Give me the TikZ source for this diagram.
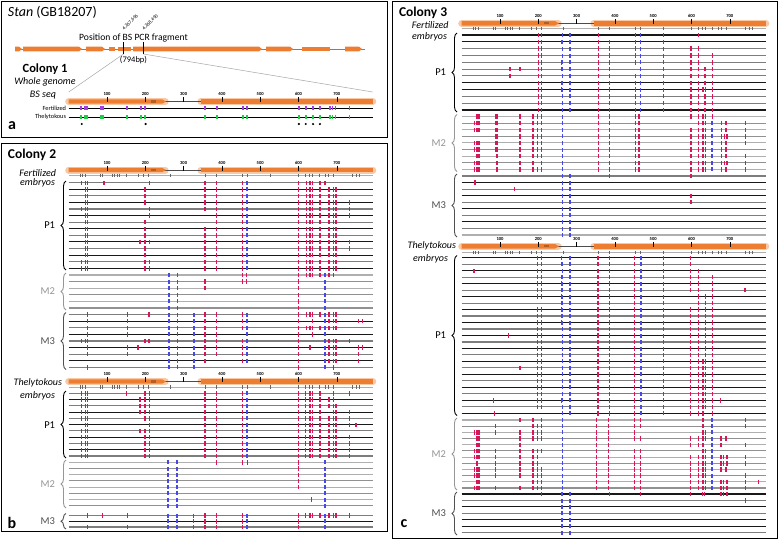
\documentclass[tikz,border=0pt]{standalone}
\usepackage{fontspec}
\setmainfont{Carlito}
\usetikzlibrary{decorations.pathreplacing}
\definecolor{gorange}{RGB}{237,125,49}
\definecolor{ghalo}{RGB}{249,200,165}
\definecolor{mred}{RGB}{214,22,88}
\definecolor{mblue}{RGB}{72,72,232}
\definecolor{mpurple}{RGB}{165,60,230}
\definecolor{mgreen}{RGB}{30,205,70}
\definecolor{lineA}{RGB}{25,25,25}
\definecolor{lineB}{RGB}{125,125,125}
\definecolor{lineC}{RGB}{175,175,175}
\definecolor{lineD}{RGB}{145,145,145}
\definecolor{labM}{RGB}{150,150,150}
\definecolor{labMM}{RGB}{80,80,80}
\def\xb{68.7}
\def\xc{461.7}
\def\cpglist{30,36,43,83,89,113,120,126,133,150,183,196,209,265,357,385,452,467,527,599,618,628,635,654,671,679,690,741,752,760}
\newcommand\rline[3]{\draw[#3, line width=1.1pt] (#1,#2) -- ++(304,0);}
\newcommand\redmarks[3]{\edef\mlist{#3}\foreach \q in \mlist {\ifdim\q pt>0pt \fill[mred] ({#1+0.383*\q-0.65},{#2-2.2}) rectangle ++(1.3,4.4);\fi}}
\newcommand\bluemarks[3]{\edef\mlist{#3}\foreach \q in \mlist {\ifdim\q pt>0pt \fill[mblue] ({#1+0.383*\q-0.9},{#2-2}) rectangle ++(1.8,4);\fi}}
\newcommand\drow[5]{\rline{#1}{#2}{#3}\redmarks{#1}{#2}{#4}\bluemarks{#1}{#2}{#5}}
\newcommand\cmarks[4]{\edef\mlist{#4}\foreach \q in \mlist {\fill[#3] ({#1+0.383*\q-0.75},{#2-2}) rectangle ++(1.5,4);}}
\newcommand\cpgrow[2]{\draw[lineC, line width=0.8pt] (#1,#2) -- ++(304,0);
  \foreach \q in \cpglist {\draw[gray!80!black, line width=0.6pt] ({#1+0.383*\q},{#2-1.6}) -- ++(0,3.2);}}
\newcommand\ruler[3]{%
  \draw[ghalo, line width=7pt, line cap=round] (#1,#2) -- ({#1+0.383*252},#2);
  \draw[ghalo, line width=7pt, line cap=round] ({#1+0.383*345},#2) -- ({#1+0.383*794},#2);
  \draw[gray!60!black, line width=0.8pt] ({#1+0.383*250},#2) -- ({#1+0.383*345},#2);
  \fill[gorange] (#1,{#2-2.2}) -- ({#1+0.383*244},{#2-2.2}) -- ({#1+0.383*254},#2) -- ({#1+0.383*244},{#2+2.2}) -- (#1,{#2+2.2}) -- cycle;
  \fill[gorange!75!black] ({#1+0.383*216},{#2-1.1}) rectangle ({#1+0.383*228},{#2+1.1});
  \fill[gorange] ({#1+0.383*345},{#2-2.2}) rectangle ({#1+0.383*794},{#2+2.2});
  \foreach \t in {100,200,...,700}{%
    \draw[black, line width=0.6pt] ({#1+0.383*\t},{#2-4.5}) -- ({#1+0.383*\t},{#2+0.5});
    \node[ticklab] (#3\t) at ({#1+0.383*\t},{#2-7.3}) {\t};}}
\newcommand\exon[3]{\fill[gorange] (#1,{#3-2.4}) -- ({#2-3},{#3-2.4}) -- (#2,#3) -- ({#2-3},{#3+2.4}) -- (#1,{#3+2.4}) -- cycle;}
\newcommand\exonb[3]{\fill[gorange] (#1,{#3-2.4}) rectangle (#2,{#3+2.4});}
\newcommand\pbrace[4]{\draw[pbr,#4] (#1,#3) -- (#1,#2);}
% mark lists
\def\Rb{43,49,356,386,454,600,621,630,637,656}
\def\Rbb{680,691,698}
\def\Bm{262,284,327,466,669}
\def\Rt{34,43,49,199,211,356,386,454,600,618,630,637,656}
\def\Rc{200,209,357,386,453,599,618}
\def\Bc{263,283,467,527}
\def\Rm{88,92,152,186,197,209,357,386,453,463,599,618,630,637}
\def\Rp{197,209,356,385,452,598,618}
\def\Bp{263,282,468,527}
\begin{document}
\begin{tikzpicture}[x=1pt,y=-1pt,
  lab/.style={inner sep=0pt, outer sep=0pt},
  ticklab/.style={inner sep=0pt, font=\fontsize{4.6}{5}\selectfont\bfseries},
  pbr/.style={decorate, decoration={brace, amplitude=5pt}, line width=0.9pt},
  panel/.style={draw=black, line width=1pt},
  emb/.style={lab, font=\fontsize{10}{12}\selectfont\itshape, anchor=east},
  grp/.style={lab, font=\fontsize{10.5}{12}\selectfont, anchor=east},
  col/.style={lab, font=\fontsize{13.5}{15}\selectfont\bfseries, anchor=west},
  plab/.style={lab, font=\fontsize{16}{18}\selectfont\bfseries, anchor=center}]
\useasboundingbox (0,0) rectangle (779,539);
\fill[white] (0,0) rectangle (779,539);
% panels
\draw[panel] (1,1) rectangle (387,137);
\draw[panel] (1,143) rectangle (387,531);
\draw[panel] (392,1) rectangle (777,538);

%%%%%%%%%%%%%%%% PANEL A
\node[lab, anchor=west, font=\fontsize{14}{16}\selectfont] (title) at (8,12.5) {\textit{Stan} (GB18207)};
\draw[gray, line width=1pt] (15,49) -- (365,49);
\exon{15}{22}{49}\exon{23}{82}{49}\exon{86}{105}{49}\exonb{109}{115}{49}\exonb{118}{131}{49}
\exon{133}{262}{49}\exon{266}{293}{49}\exonb{302}{330}{49}\exon{345}{362}{49}
\coordinate (fa) at (123.5,54);
\coordinate (fb) at (143.3,54);
\draw[black, line width=0.8pt] (123.5,42) -- (fa);
\draw[black, line width=0.8pt] (143.3,42) -- (fb);
\node[lab, rotate=45, anchor=south west, font=\fontsize{5}{6}\selectfont] (posA) at (124.5,31) {4,267,696};
\node[lab, rotate=45, anchor=south west, font=\fontsize{5}{6}\selectfont] (posB) at (144.5,31) {4,268,490};
\node[lab, font=\fontsize{9.6}{11}\selectfont] (pcr) at (133.5,38) {Position of BS PCR fragment};
\node[lab, font=\fontsize{8.5}{10}\selectfont] (len) at (133.5,60.5) {(794bp)};
\coordinate (za) at (68.7,92);
\coordinate (zb) at (372.7,92);
\draw[gray!70, line width=0.5pt] (fa) -- (za);
\draw[gray!70, line width=0.5pt] (fb) -- (zb);
\node[lab, font=\fontsize{12.5}{14}\selectfont\bfseries] (c1) at (45,69) {Colony 1};
\node[lab, font=\fontsize{10}{12}\selectfont\itshape] (c1a) at (45,82) {Whole genome};
\node[lab, font=\fontsize{10}{12}\selectfont\itshape] (c1b) at (43,95) {BS seq};
\ruler{\xb}{101.5}{ra}
\node[lab, anchor=east, font=\fontsize{6.3}{7}\selectfont] (fert1) at (66,108.3) {Fertilized};
\node[lab, anchor=east, font=\fontsize{6.3}{7}\selectfont] (thel1) at (66,117) {Thelytokous};
\draw[black, line width=0.8pt] (\xb,108.3) -- ++(304,0);
\draw[black, line width=0.8pt] (\xb,117) -- ++(304,0);
\cmarks{\xb}{108.3}{mpurple}{32,43,48,84,90,152,189,199,356,387,455,466,601,619,638,656,682,689,697,733}
\cmarks{\xb}{117}{mgreen}{32,43,48,84,90,152,189,199,356,387,455,466,601,619,638,656,682,689,697,733}
\foreach \q in {34,201,601,619,638,656} {\fill[black] ({\xb+0.383*\q},124) circle (1.2);}
\node[plab] (la) at (12,126) {a};

%%%%%%%%%%%%%%%% PANEL B
\node[col] (c2) at (8,155) {Colony 2};
\ruler{\xb}{170}{rb}
\cpgrow{\xb}{175.5}
\node[emb] (fert2) at (56,173) {Fertilized};
\node[emb] (emb2) at (55,183.3) {embryos};
% P1 fertilized
\drow{\xb}{182.7}{lineB}{34,\Rb,92,211,669}{466}
\drow{\xb}{189.3}{lineA}{\Rb,199,\Rbb}{466}
\drow{\xb}{195.9}{lineB}{\Rb,199,\Rbb}{466}
\drow{\xb}{202.4}{lineA}{\Rb,199,\Rbb,733}{466}
\drow{\xb}{209.0}{lineB}{34,\Rb,211,\Rbb,733}{466}
\drow{\xb}{215.6}{lineA}{43,49,211,386,454,600,621,630,637,656,\Rbb,733}{466}
\drow{\xb}{222.2}{lineB}{43,49,199,386,454,600,621,630,637,656,\Rbb}{466}
\drow{\xb}{228.8}{lineA}{\Rb,199,\Rbb}{466}
\drow{\xb}{235.3}{lineB}{\Rb,199,\Rbb}{466}
\drow{\xb}{241.9}{lineA}{\Rb,186,199,211,\Rbb,733}{466}
\drow{\xb}{248.5}{lineB}{\Rb,199,\Rbb,733}{466}
\drow{\xb}{255.1}{lineA}{\Rb,199,\Rbb}{466}
\drow{\xb}{261.7}{lineB}{34,\Rb,199,211,\Rbb}{466}
\drow{\xb}{268.3}{lineA}{34,\Rb,199,211,\Rbb}{466}
% M2
\drow{\xb}{275.0}{lineC}{453,465,600,621,630,637,656,680,691}{262,284,669}
\drow{\xb}{281.6}{lineD}{356,453,465,600}{262,284,669}
\drow{\xb}{288.2}{lineC}{356,600}{262,284,669}
\drow{\xb}{294.8}{lineD}{600}{262,284,669}
\drow{\xb}{301.4}{lineC}{600}{262,284,669}
\drow{\xb}{308.0}{lineD}{600}{262,284,669}
% M3
\drow{\xb}{314.6}{lineB}{49,154,210,356,386,454,600,621,630,637,656,680,691,698}{\Bm}
\drow{\xb}{321.2}{lineA}{49,154,356,386,454,600,637,680,691,698,756,768}{\Bm}
\drow{\xb}{327.8}{lineB}{49,154,356,386,454,600,621,630,637,656,680,691,698}{\Bm}
\drow{\xb}{334.4}{lineA}{49,154,356,386,600,637}{\Bm}
\drow{\xb}{341.0}{lineB}{34,43,49,199,210,356,386,454,600,680,691,698,733}{\Bm}
\drow{\xb}{347.6}{lineA}{49,154,181,356,386,454,600,630,680,691,698,756,768}{\Bm}
\drow{\xb}{354.2}{lineB}{49,154,356,386,454,600,680,691,698,756}{\Bm}
\drow{\xb}{360.8}{lineA}{356,454,600,680,691,698,756}{\Bm}
\drow{\xb}{367.4}{lineB}{49,600,691}{262,284,327,669}
\pbrace{66}{181}{270}{black}
\pbrace{66}{273}{310}{labM}
\pbrace{66}{312.5}{369.5}{labMM}
\node[grp] (p1b) at (55,225.5) {P1};
\node[grp, text=labM] (m2b) at (55,291.5) {M2};
\node[grp, text=labMM] (m3b) at (55,341) {M3};
% Thelytokous
\ruler{\xb}{381.5}{rc}
\cpgrow{\xb}{387}
\node[emb] (thel2) at (62,382.5) {Thelytokous};
\node[emb] (emb2b) at (55,395.7) {embryos};
\drow{\xb}{393.3}{lineB}{\Rt,150,691,733}{466}
\drow{\xb}{399.6}{lineA}{\Rt,186,680,691}{466}
\drow{\xb}{405.8}{lineB}{\Rt,186,680,691,698}{466}
\drow{\xb}{412.1}{lineA}{\Rt,186,691,698,733}{466}
\drow{\xb}{418.4}{lineB}{\Rt,680,691,698,733}{466}
\drow{\xb}{424.7}{lineA}{43,49,211,356,386,454,600,618,630,637,656,680,691,698,733,750}{466}
\drow{\xb}{430.9}{lineB}{\Rt,186,680,691,698}{466}
\drow{\xb}{437.2}{lineA}{\Rt,680,691,698,733}{466}
\drow{\xb}{443.5}{lineB}{\Rt,680,691,698,733}{466}
\drow{\xb}{449.7}{lineA}{\Rt,680,691,698,733}{466}
\drow{\xb}{456.0}{lineB}{\Rt,680,691,698,733}{466}
\drow{\xb}{462.3}{lineC}{386,454,466,600}{260,282,669}
\drow{\xb}{468.5}{lineD}{600}{260,282,669}
\drow{\xb}{474.7}{lineC}{600}{260,282,669}
\drow{\xb}{480.9}{lineD}{600}{260,282,669}
\drow{\xb}{487.1}{lineC}{600}{260,282,669}
\drow{\xb}{493.3}{lineD}{-99}{260,282,669}
\drow{\xb}{499.5}{lineC}{634}{260,282,669}
\drow{\xb}{505.7}{lineD}{-99}{260,282,669}
\drow{\xb}{515.5}{lineB}{49,89,154,356,386,454,600,618,630,637,656,680,691,698,733}{260,282,326,466,669}
\drow{\xb}{521.3}{lineA}{356,386,454,600}{260,282,326,466,669}
\drow{\xb}{527.0}{lineB}{49,154,356,386,454,600}{260,282,326,466,669}
\pbrace{66}{391}{458}{black}
\pbrace{66}{460}{508}{labM}
\pbrace{66}{513.5}{529}{labMM}
\node[grp] (p1c) at (55,424.7) {P1};
\node[grp, text=labM] (m2c) at (55,484) {M2};
\node[grp, text=labMM] (m3c) at (55,521.5) {M3};
\node[plab] (lb) at (12,523) {b};

%%%%%%%%%%%%%%%% PANEL C
\node[col] (c3) at (399,13) {Colony 3};
\ruler{\xc}{23.3}{rd}
\cpgrow{\xc}{28.7}
\node[emb] (fert3) at (448.5,24.7) {Fertilized};
\node[emb] (emb3) at (447,37) {embryos};
\drow{\xc}{35.0}{lineA}{200,209,357,453,618}{\Bc}
\drow{\xc}{41.8}{lineA}{200,209,260,357,386,453}{\Bc}
\drow{\xc}{48.6}{lineB}{\Rc}{\Bc}
\drow{\xc}{55.5}{lineB}{\Rc,654}{\Bc}
\drow{\xc}{62.3}{lineB}{260,\Rc,654}{\Bc}
\drow{\xc}{69.1}{lineB}{126,152,200,209,260,357,386,599,618,635,654}{263,283,467,527}
\drow{\xc}{75.9}{lineB}{126,\Rc,635,654}{\Bc}
\drow{\xc}{82.7}{lineA}{260,\Rc,635,654}{\Bc}
\drow{\xc}{89.6}{lineA}{260,\Rc,630,637,654}{\Bc}
\drow{\xc}{96.4}{lineB}{\Rc,635,654}{\Bc}
\drow{\xc}{103.2}{lineB}{\Rc,635,654}{\Bc}
\drow{\xc}{110.0}{lineA}{\Rc,635,654}{\Bc}
\drow{\xc}{116.5}{lineC}{40,45,\Rm,654}{263}
\drow{\xc}{123.1}{lineD}{33,40,45,88,92,152,186,197,209,357,386,453,463,618,630,637,679,690,741}{263,654}
\drow{\xc}{129.7}{lineC}{33,40,45,\Rm,679,690,741}{263,654}
\drow{\xc}{136.3}{lineD}{\Rm,679,686,693,741}{263,654}
\drow{\xc}{142.9}{lineC}{33,40,45,\Rm,679,690,741}{263,654}
\drow{\xc}{149.5}{lineD}{33,40,45,\Rm,679,690}{263,654}
\drow{\xc}{156.1}{lineC}{40,45,92,152,186,197,209,357,386,453,463,599,618,630,637,679,690,741}{263,654}
\drow{\xc}{162.7}{lineD}{33,40,45,92,152,186,209,357,386,453,463,599,618,630,637,679,686,693,741}{263,654}
\drow{\xc}{169.3}{lineC}{33,40,45,92,152,186,197,209,357,386,453,463,599,618,630,637,679,690,741}{263,654}
\drow{\xc}{176.0}{lineB}{386,599}{263,283}
\drow{\xc}{182.6}{lineA}{35}{263,283}
\drow{\xc}{189.1}{lineB}{137}{263,283}
\drow{\xc}{195.7}{lineA}{599}{263,283}
\drow{\xc}{202.2}{lineB}{599}{263,283}
\drow{\xc}{208.8}{lineA}{-99}{263,283}
\drow{\xc}{215.4}{lineB}{-99}{263,283}
\drow{\xc}{221.9}{lineA}{-99}{263,283}
\drow{\xc}{228.5}{lineB}{-99}{263,283}
\drow{\xc}{235.0}{lineC}{-99}{263,283}
\pbrace{457}{33}{112}{black}
\pbrace{457}{114.5}{171.5}{labM}
\pbrace{457}{174}{237}{labMM}
\node[grp] (p1d) at (446,72.5) {P1};
\node[grp, text=labM] (m2d) at (446,143) {M2};
\node[grp, text=labMM] (m3d) at (446,205.5) {M3};
% Thelytokous
\ruler{\xc}{246.3}{re}
\cpgrow{\xc}{252.7}
\node[emb] (thel3) at (456,246.3) {Thelytokous};
\node[emb] (emb3b) at (448,259.3) {embryos};
\drow{\xc}{257.7}{lineA}{197,209,260,356,385,452,598}{282,468,527}
\drow{\xc}{264.2}{lineB}{197,209,260,356,385,452,598}{263,282,468,527}
\drow{\xc}{270.7}{lineA}{32,\Rp}{\Bp}
\drow{\xc}{277.1}{lineB}{260,\Rp,654}{\Bp}
\drow{\xc}{283.6}{lineA}{260,\Rp,654}{\Bp}
\drow{\xc}{290.1}{lineB}{260,\Rp,654,740}{\Bp}
\drow{\xc}{296.6}{lineA}{197,209,260,356,385,452,618,636,654}{\Bp}
\drow{\xc}{303.1}{lineB}{260,356,385,452,618,636,654}{\Bp}
\drow{\xc}{309.6}{lineA}{260,\Rp,636,654}{\Bp}
\drow{\xc}{316.0}{lineB}{260,\Rp,636,654}{\Bp}
\drow{\xc}{322.5}{lineA}{260,\Rp,636,654}{\Bp}
\drow{\xc}{329.0}{lineB}{\Rp,636,654}{\Bp}
\drow{\xc}{335.5}{lineA}{123,\Rp,636,654}{\Bp}
\drow{\xc}{342.0}{lineB}{\Rp,636,654}{\Bp}
\drow{\xc}{348.5}{lineA}{\Rp,636,654}{\Bp}
\drow{\xc}{354.9}{lineB}{\Rp,636,654}{\Bp}
\drow{\xc}{361.4}{lineA}{\Rp,630,636,654}{\Bp}
\drow{\xc}{367.9}{lineB}{152,\Rp,630,636,654}{\Bp}
\drow{\xc}{374.4}{lineA}{\Rp,630,636,654}{\Bp}
\drow{\xc}{380.9}{lineB}{\Rp,630,636,654}{\Bp}
\drow{\xc}{387.4}{lineA}{\Rp,630,636,654}{\Bp}
\drow{\xc}{393.8}{lineB}{\Rp,630,636,654}{\Bp}
\drow{\xc}{400.3}{lineA}{83,260,\Rp,630,636,654,676}{\Bp}
\drow{\xc}{406.8}{lineB}{\Rp,630,636,654}{\Bp}
\drow{\xc}{413.3}{lineA}{86,356,385,452,598,618,630,654}{\Bp}
\drow{\xc}{420.0}{lineC}{152,186,209,352,383,452,466,630,741}{263,654}
\drow{\xc}{426.2}{lineD}{88,186,197,209,352,383,452,466,630,741}{263,654}
\drow{\xc}{432.4}{lineC}{33,40,45,88,152,186,197,209,352,383,452,630,637}{263,654}
\drow{\xc}{438.5}{lineD}{40,45,152,186,197,209,352,383,452,466,598,618,630,637,677,690}{263,654}
\drow{\xc}{444.7}{lineC}{40,45,152,352,383,598,618,630,677,741}{263,654}
\drow{\xc}{450.9}{lineD}{33,40,45,88,152,186,197,209,352,383,452,466,630,637}{263,654}
\drow{\xc}{457.1}{lineC}{33,40,45,88,152,186,197,352,383,452,466,598,618,630,637,677,684,693,741}{263,654}
\drow{\xc}{463.3}{lineD}{40,88,152,186,197,352,383,452,466,598,618,630,637,677,684,693,741}{263,654}
\drow{\xc}{469.4}{lineC}{33,40,45,88,152,186,197,209,352,383,452,466,598,618,630,637,677,690}{263,654}
\drow{\xc}{475.6}{lineD}{33,40,45,88,152,186,197,209,352,383,452,466,598,618,630,637,741}{263,654}
\drow{\xc}{481.8}{lineC}{40,45,186,197,209,352,383,452,466,598,618,630,637,677,684,693,741,775}{263,654}
\drow{\xc}{488.0}{lineD}{33,40,45,88,152,186,197,209,352,383,452,466,598,618,630,637,677,684,693,741}{263,654}
\drow{\xc}{494.0}{lineA}{209,385,466,598,628,634,677,684,693}{262,282}
\drow{\xc}{500.5}{lineB}{741}{262,282}
\drow{\xc}{506.9}{lineA}{-99}{262,282}
\drow{\xc}{513.4}{lineB}{-99}{262,282}
\drow{\xc}{519.8}{lineA}{-99}{262,282}
\drow{\xc}{526.3}{lineA}{-99}{262,282}
\drow{\xc}{532.7}{lineB}{-99}{262,282}
\pbrace{457}{255.5}{415.5}{black}
\pbrace{457}{418}{490}{labM}
\pbrace{457}{492}{535}{labMM}
\node[grp] (p1e) at (446,335.5) {P1};
\node[grp, text=labM] (m2e) at (446,454) {M2};
\node[grp, text=labMM] (m3e) at (446,513.5) {M3};
\node[plab] (lc) at (404,524) {c};
\end{tikzpicture}
\end{document}
